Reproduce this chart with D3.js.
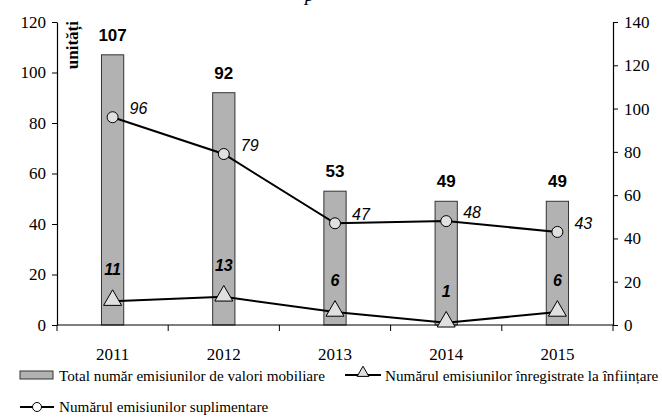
<!DOCTYPE html>
<html>
<head>
<meta charset="utf-8">
<script src="https://cdn.jsdelivr.net/npm/d3@7"></script>
<style>
  body { margin: 0; background: #fff; }
  svg { display: block; }
</style>
</head>
<body>
<div id="chart"></div>
<script>
// Emisiuni de valori mobiliare, 2011-2015. Bars on the left axis,
// both lines on the right axis (0-140).
var years       = ['2011', '2012', '2013', '2014', '2015']
var totalIssues = [107, 92, 53, 49, 49]       // bars
var extraIssues = [96, 79, 47, 48, 43]         // circles
var foundIssues = [11, 13, 6, 1, 6]            // triangles
var leftTicks   = [0, 20, 40, 60, 80, 100, 120]
var rightTicks  = [0, 20, 40, 60, 80, 100, 120, 140]

var W = 662, H = 417
var plot = {left: 57, right: 613, top: 22, bottom: 325}
var SERIF = 'Liberation Serif'
var SANS  = 'Liberation Sans'

var svg = d3.select('#chart').append('svg').attr('width', W).attr('height', H)

var x  = d3.scaleBand().domain(years).range([plot.left, plot.right]).paddingInner(0.8).paddingOuter(0.4)
var yL = d3.scaleLinear().domain([0, 120]).range([plot.bottom, plot.top])
var yR = d3.scaleLinear().domain([0, 140]).range([plot.bottom, plot.top])
var cx = function(i){ return x(years[i]) + x.bandwidth() / 2 }

// clipped title descender peeking in at the top
svg.append('text').text('p')
  .attr('x', 305).attr('y', 1)
  .attr('font-family', SERIF).attr('font-size', 19).attr('font-style', 'italic')

// ---- bars ----
svg.selectAll('rect.bar').data(totalIssues).join('rect')
  .attr('class', 'bar')
  .attr('x', function(d, i){ return x(years[i]) })
  .attr('width', x.bandwidth())
  .attr('y', function(d){ return yL(d) })
  .attr('height', function(d){ return yL(0) - yL(d) })
  .attr('fill', '#b2b2b2').attr('stroke', '#333').attr('stroke-width', 1)

svg.selectAll('text.barlab').data(totalIssues).join('text')
  .attr('class', 'barlab')
  .attr('x', function(d, i){ return cx(i) })
  .attr('y', function(d){ return yL(d) - 14 })
  .attr('text-anchor', 'middle')
  .attr('font-family', SANS).attr('font-size', 17).attr('font-weight', 'bold')
  .text(function(d){ return d })

// ---- axes ----
function styleTicks(g){
  g.attr('font-family', SERIF).attr('font-size', 17)
  g.selectAll('.tick text').attr('fill', '#000')
}
var xAxis = d3.axisBottom(x).tickSize(0).tickPadding(23)
var gx = svg.append('g').attr('transform', 'translate(0,' + plot.bottom + ')').call(xAxis)
gx.select('.domain').remove()
gx.append('line').attr('x1', plot.left).attr('x2', plot.right).attr('stroke', '#000').attr('stroke-width', 1.2)
var bounds = d3.range(years.length + 1).map(function(i){ return plot.left + i * x.step() })
gx.selectAll('line.bnd').data(bounds).join('line')
  .attr('class', 'bnd')
  .attr('x1', function(d){ return d }).attr('x2', function(d){ return d })
  .attr('y1', 0).attr('y2', 6).attr('stroke', '#000')
styleTicks(gx)

var gl = svg.append('g').attr('transform', 'translate(' + plot.left + ',0)')
  .call(d3.axisLeft(yL).tickValues(leftTicks).tickSize(5).tickSizeOuter(0).tickPadding(6))
var gr = svg.append('g').attr('transform', 'translate(' + plot.right + ',0)')
  .call(d3.axisRight(yR).tickValues(rightTicks).tickSize(5).tickSizeOuter(0).tickPadding(6))
;[gl, gr].forEach(function(g){
  g.select('.domain').attr('stroke', '#000').attr('stroke-width', 1.2)
  g.selectAll('.tick line').attr('stroke', '#000')
  styleTicks(g)
})

svg.append('text').text('unități')
  .attr('transform', 'translate(78,' + (plot.top - 1) + ') rotate(-90)')
  .attr('text-anchor', 'end')
  .attr('font-family', SERIF).attr('font-size', 17).attr('font-weight', 'bold')

// ---- lines (right axis) ----
var line = d3.line().x(function(d, i){ return cx(i) }).y(function(d){ return yR(d) })
svg.append('path').attr('d', line(extraIssues))
  .attr('fill', 'none').attr('stroke', '#000').attr('stroke-width', 2)
svg.append('path').attr('d', line(foundIssues))
  .attr('fill', 'none').attr('stroke', '#000').attr('stroke-width', 2)

svg.selectAll('circle.pt').data(extraIssues).join('circle')
  .attr('class', 'pt')
  .attr('cx', function(d, i){ return cx(i) }).attr('cy', function(d){ return yR(d) })
  .attr('r', 5.5).attr('fill', '#e0e0e0').attr('stroke', '#000').attr('stroke-width', 1)

var tri = d3.symbol().type(d3.symbolTriangle).size(140)
svg.selectAll('path.tri').data(foundIssues).join('path')
  .attr('class', 'tri')
  .attr('d', tri)
  .attr('transform', function(d, i){ return 'translate(' + cx(i) + ',' + (yR(d) - 1) + ')' })
  .attr('fill', '#e0e0e0').attr('stroke', '#000').attr('stroke-width', 1)

svg.selectAll('text.circlab').data(extraIssues).join('text')
  .attr('class', 'circlab')
  .attr('x', function(d, i){ return cx(i) + 17 })
  .attr('y', function(d){ return yR(d) - 3 })
  .attr('font-family', SANS).attr('font-size', 16).attr('font-style', 'italic')
  .text(function(d){ return d })

svg.selectAll('text.trilab').data(foundIssues).join('text')
  .attr('class', 'trilab')
  .attr('x', function(d, i){ return cx(i) })
  .attr('y', function(d){ return yR(d) - 26 })
  .attr('text-anchor', 'middle')
  .attr('font-family', SANS).attr('font-size', 16).attr('font-style', 'italic').attr('font-weight', 'bold')
  .text(function(d){ return d })

// ---- legend ----
var lg = svg.append('g').attr('font-family', SERIF).attr('font-size', 15.2)
lg.append('rect').attr('x', 20).attr('y', 371).attr('width', 33).attr('height', 8)
  .attr('fill', '#b2b2b2').attr('stroke', '#333')
lg.append('text').attr('x', 59).attr('y', 381).text('Total număr emisiunilor de valori mobiliare')

lg.append('line').attr('x1', 345).attr('x2', 381).attr('y1', 375).attr('y2', 375).attr('stroke', '#000').attr('stroke-width', 2)
lg.append('path').attr('d', d3.symbol().type(d3.symbolTriangle).size(60))
  .attr('transform', 'translate(363,373)').attr('fill', '#e0e0e0').attr('stroke', '#000')
lg.append('text').attr('x', 385).attr('y', 381).text('Numărul emisiunilor înregistrate la înființare')

lg.append('line').attr('x1', 20).attr('x2', 54).attr('y1', 407).attr('y2', 407).attr('stroke', '#000').attr('stroke-width', 2)
lg.append('circle').attr('cx', 37).attr('cy', 407).attr('r', 4.5).attr('fill', '#fff').attr('stroke', '#000')
lg.append('text').attr('x', 59).attr('y', 412).text('Numărul emisiunilor suplimentare')
</script>
</body>
</html>
